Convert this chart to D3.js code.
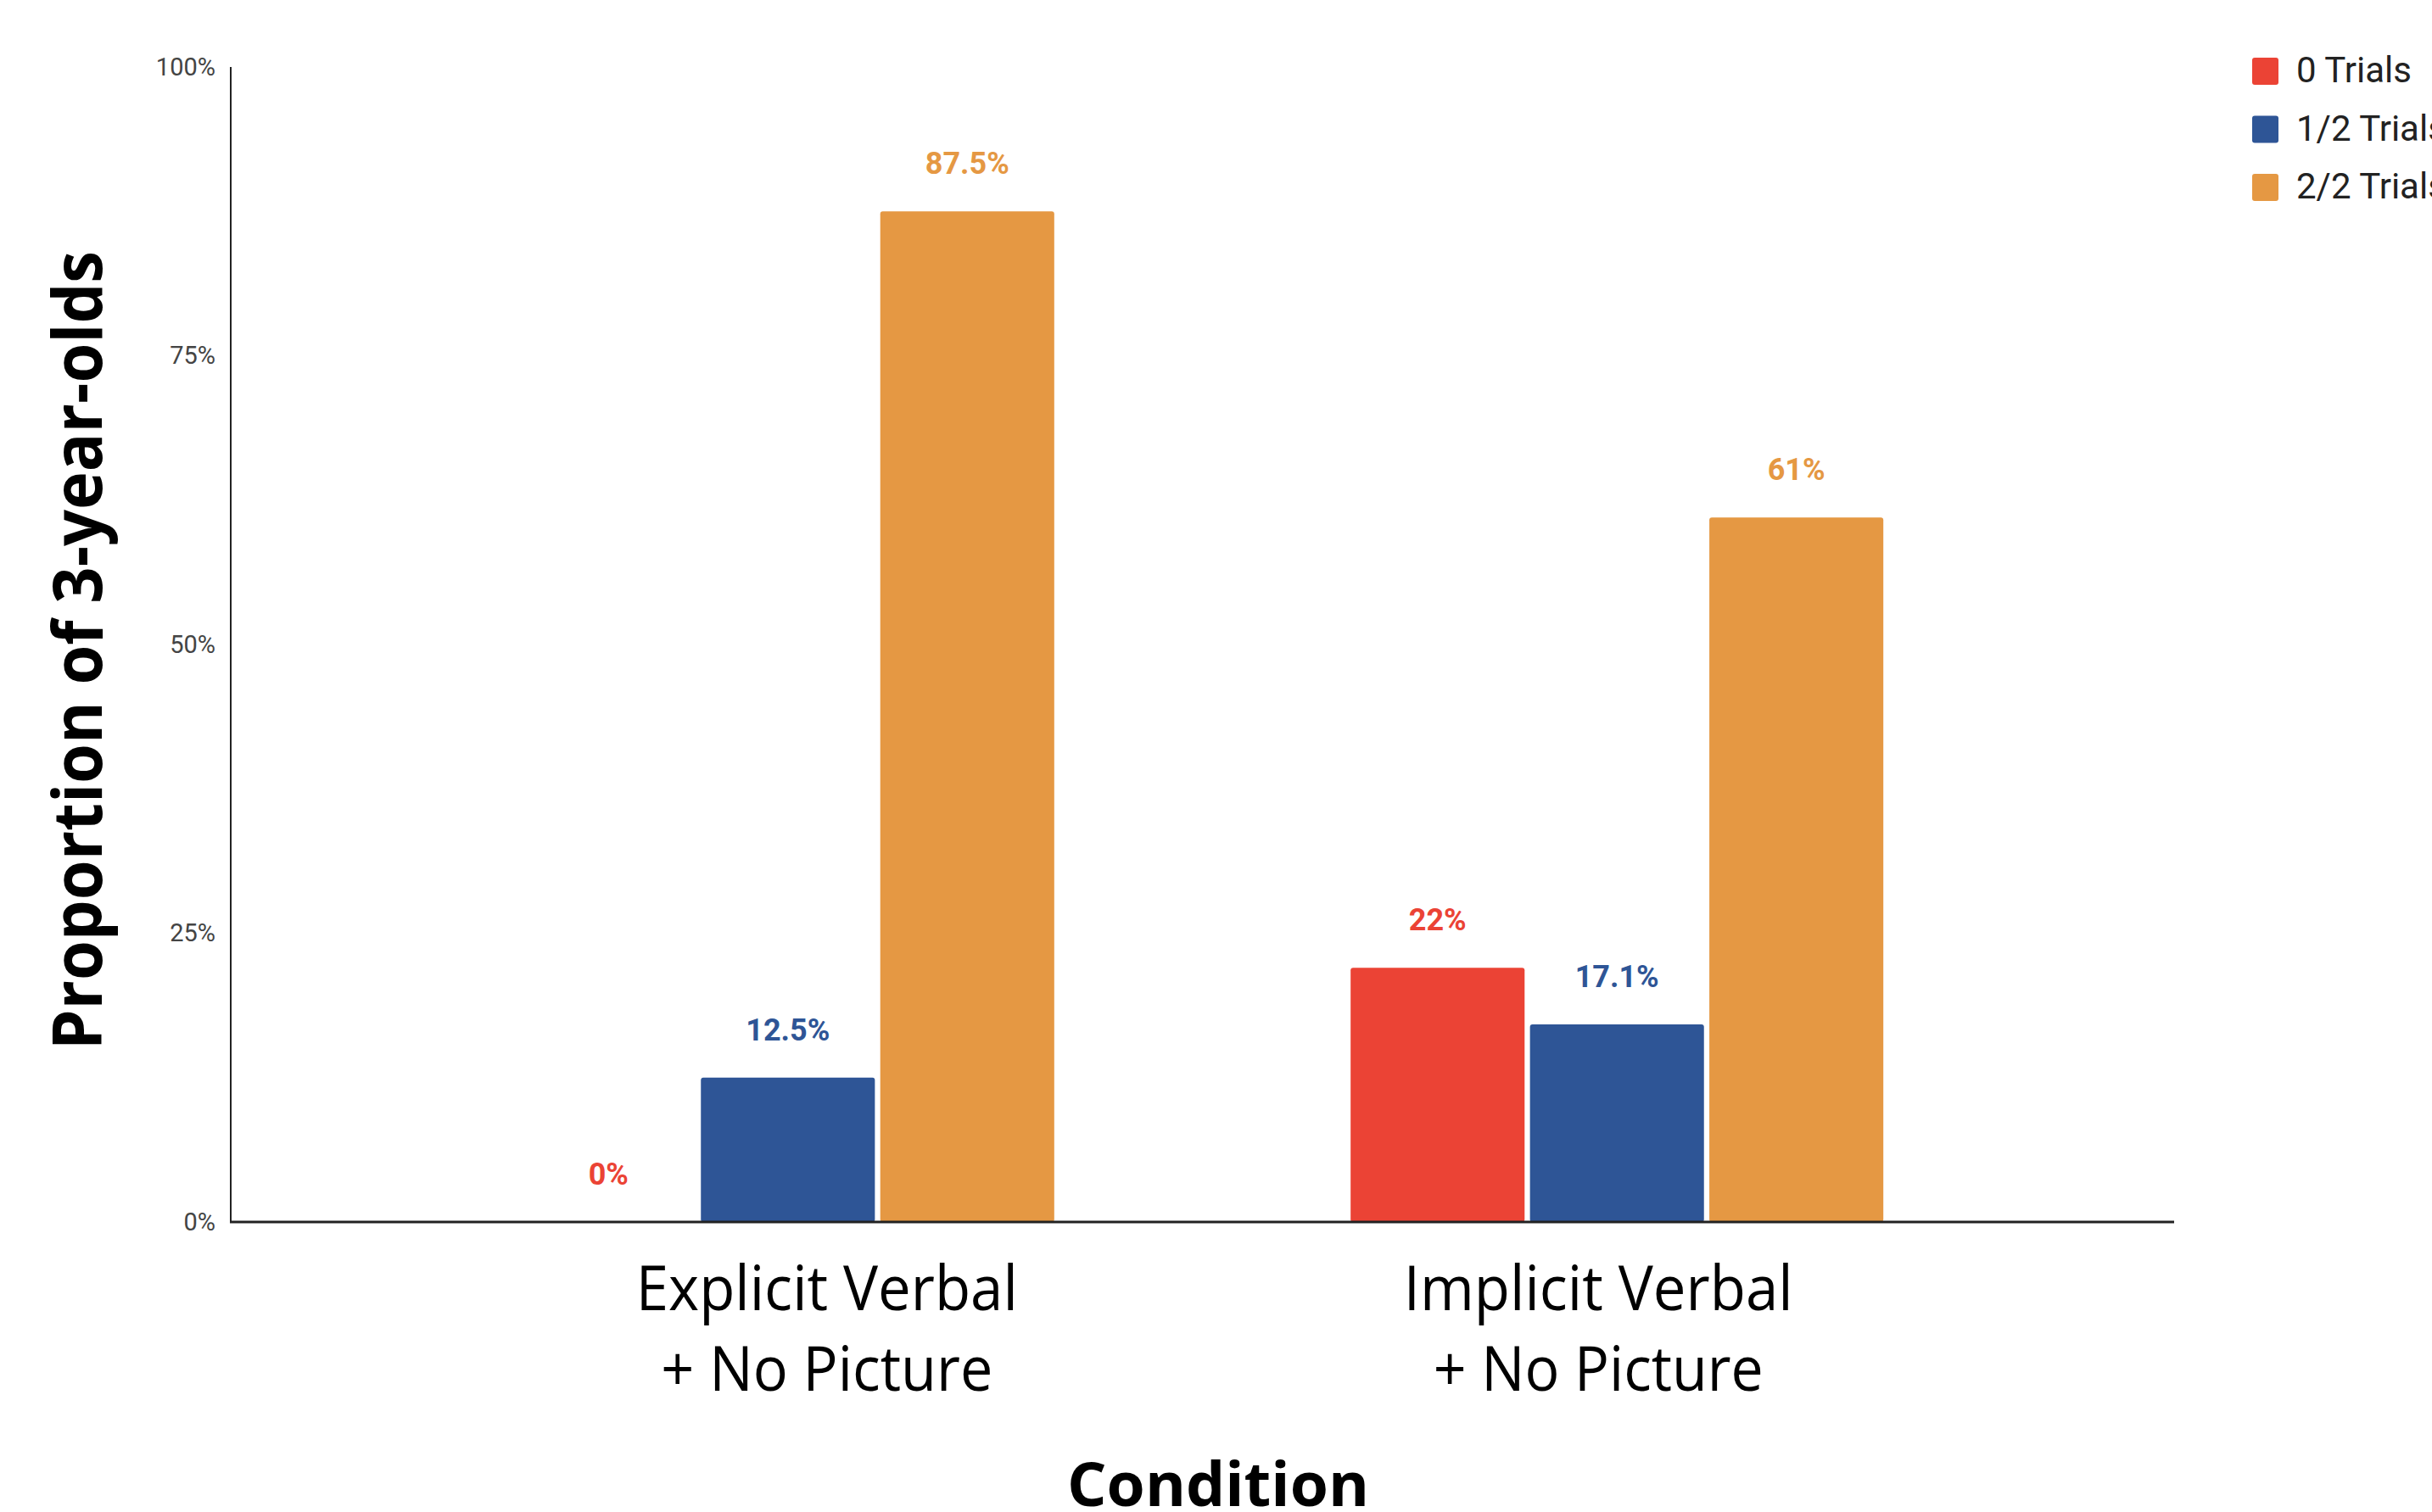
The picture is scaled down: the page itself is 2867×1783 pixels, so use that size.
<!DOCTYPE html>
<html>
<head>
<meta charset="utf-8">
<script src="https://cdn.jsdelivr.net/npm/d3@7"></script>
<style>
  html, body { margin: 0; padding: 0; background: #fff; overflow: hidden; }
  svg { display: block; }
</style>
</head>
<body>
<svg id="chart" width="2867" height="1783"></svg>
<script>
// ---- data ----
const categories = ["Explicit Verbal|+ No Picture", "Implicit Verbal|+ No Picture"];
const seriesNames = ["0 Trials", "1/2 Trials", "2/2 Trials"];
const seriesColors = ["#EB4335", "#2E5596", "#E59843"];
const values0 = [0, 22];       // 0 Trials
const values1 = [12.5, 17.1];  // 1/2 Trials
const values2 = [87.5, 61];    // 2/2 Trials
const valueLabels0 = ["0%", "22%"];
const valueLabels1 = ["12.5%", "17.1%"];
const valueLabels2 = ["87.5%", "61%"];
const yTicks = [0, 25, 50, 75, 100];
const yTickLabels = ["0%", "25%", "50%", "75%", "100%"];
const yTitle = "Proportion of 3-year-olds";
const xTitle = "Condition";

const seriesValues = [values0, values1, values2];
const seriesLabels = [valueLabels0, valueLabels1, valueLabels2];

// ---- layout ----
const svg = d3.select("#chart");
const plot = { left: 272, right: 2563, top: 79, bottom: 1441 };

const x = d3.scalePoint().domain(categories).range([plot.left, plot.right]).padding(0.672);
const groupWidth = 628;
const xs = d3.scaleBand().domain(seriesNames).range([-groupWidth / 2, groupWidth / 2]).paddingInner(0.03).paddingOuter(0);
const y = d3.scaleLinear().domain([0, 100]).range([plot.bottom, plot.top]);

// y tick labels
const yAxis = d3.axisLeft(y).tickValues(yTicks).tickSize(0).tickPadding(18)
  .tickFormat((d, i) => yTickLabels[i]);
const gy = svg.append("g").attr("transform", `translate(${plot.left},0)`).call(yAxis);
gy.select(".domain").remove();
gy.selectAll("text").attr("font-family", "Roboto").attr("font-size", 29).attr("fill", "#444");

// bars
const data = [];
categories.forEach((c, ci) => {
  seriesNames.forEach((s, si) => {
    data.push({ c, s, si, v: seriesValues[si][ci], label: seriesLabels[si][ci] });
  });
});

const groups = svg.append("g");
groups.selectAll("rect.bar").data(data.filter(d => d.v > 0)).join("rect")
  .attr("class", "bar")
  .attr("x", d => x(d.c) + xs(d.s))
  .attr("width", xs.bandwidth())
  .attr("y", d => y(d.v))
  .attr("height", d => y(0) - y(d.v))
  .attr("rx", 3)
  .attr("fill", d => seriesColors[d.si]);

groups.selectAll("text.val").data(data).join("text")
  .attr("class", "val")
  .attr("x", d => x(d.c) + xs(d.s) + xs.bandwidth() / 2)
  .attr("y", d => y(d.v) - 44)
  .attr("text-anchor", "middle")
  .attr("font-family", "Roboto")
  .attr("font-weight", "bold")
  .attr("font-size", 36)
  .attr("fill", d => seriesColors[d.si])
  .text(d => d.label);

// axis lines
svg.append("line")
  .attr("x1", plot.left).attr("x2", plot.left)
  .attr("y1", y(100)).attr("y2", y(0))
  .attr("stroke", "#222").attr("stroke-width", 2);
svg.append("line")
  .attr("x1", plot.left - 1).attr("x2", plot.right)
  .attr("y1", y(0)).attr("y2", y(0))
  .attr("stroke", "#222").attr("stroke-width", 3);

// category labels
const labelNudge = [46, -22];
const lineWidths = [[450, 391], [459, 389]];
categories.forEach((c, ci) => {
  const lines = c.split("|");
  lines.forEach((ln, li) => {
    svg.append("text")
      .attr("x", x(c) + labelNudge[ci])
      .attr("y", 1545 + li * 95)
      .attr("text-anchor", "middle")
      .attr("font-family", "Open Sans")
      .attr("font-size", 73)
      .attr("fill", "#000")
      .attr("textLength", lineWidths[ci][li])
      .attr("lengthAdjust", "spacingAndGlyphs")
      .text(ln);
  });
});

// x title
svg.append("text")
  .attr("x", 1436).attr("y", 1776)
  .attr("text-anchor", "middle")
  .attr("font-family", "Open Sans").attr("font-weight", "bold")
  .attr("font-size", 72).attr("fill", "#000")
  .attr("textLength", 356).attr("lengthAdjust", "spacingAndGlyphs")
  .text(xTitle);

// y title
svg.append("text")
  .attr("transform", "translate(120,767) rotate(-90)")
  .attr("text-anchor", "middle")
  .attr("font-family", "Open Sans").attr("font-weight", "bold")
  .attr("font-size", 80).attr("fill", "#000")
  .attr("textLength", 942).attr("lengthAdjust", "spacingAndGlyphs")
  .text(yTitle);

// legend
const legend = svg.append("g").attr("transform", "translate(2655,68)");
seriesNames.forEach((s, i) => {
  const g = legend.append("g").attr("transform", `translate(0,${i * 68.5})`);
  g.append("rect").attr("width", 31).attr("height", 32).attr("rx", 3).attr("fill", seriesColors[i]);
  g.append("text").attr("x", 52).attr("y", 29)
    .attr("font-family", "Roboto").attr("font-size", 42).attr("fill", "#222")
    .text(s);
});
</script>
</body>
</html>
